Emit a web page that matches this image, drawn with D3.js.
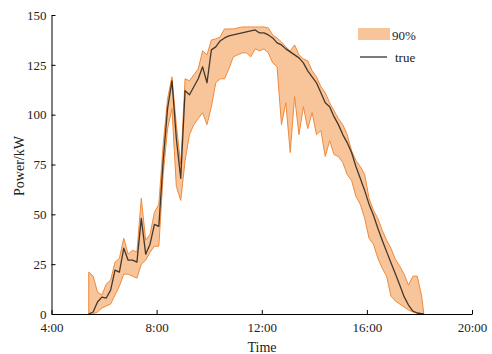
<!DOCTYPE html>
<html>
<head>
<meta charset="utf-8">
<script src="https://cdn.jsdelivr.net/npm/d3@7"></script>
<style>
  html, body { margin: 0; padding: 0; background: #fff; }
  svg { display: block; }
  svg text { font-family: "Liberation Serif", "Times New Roman", serif !important; fill: #222; }
</style>
</head>
<body>
<div id="chart"></div>
<script>
// Time stamps (10 min resolution)
const times = [
  "5:25","5:35","5:45","5:55","6:05","6:15","6:25","6:35","6:45","6:55",
  "7:05","7:15","7:25","7:35","7:45","7:55","8:05","8:15","8:25","8:35",
  "8:45","8:55","9:05","9:15","9:25","9:35","9:45","9:55","10:05","10:15",
  "10:25","10:35","10:45","10:55","11:05","11:15","11:25","11:35","11:45","11:55",
  "12:05","12:15","12:25","12:35","12:45","12:55","13:05","13:15","13:25","13:35",
  "13:45","13:55","14:05","14:15","14:25","14:35","14:45","14:55","15:05","15:15",
  "15:25","15:35","15:45","15:55","16:05","16:15","16:25","16:35","16:45","16:55",
  "17:05","17:15","17:25","17:35","17:45","17:55","18:05","18:10"
];

// upper bound of the 90% interval (kW)
const upper90 = [
  21, 19, 11, 9.5, 15, 17, 26, 28, 38, 30,
  32, 31, 58, 37, 40, 51, 55, 85, 108, 119,
  95, 75, 118, 117, 120, 123, 132, 130, 137.5, 138,
  139, 143, 143, 143, 143.5, 144, 144, 144, 144, 144,
  144, 143.5, 140, 138.5, 136.5, 134, 132, 135, 130, 128,
  127, 122, 119, 114, 111, 106, 102, 98, 95, 90,
  82, 77, 74, 70, 58, 52, 48, 42, 37, 33,
  27.5, 24, 20, 14.5, 19, 19, 9, 0
];

// measured power (kW)
const truePower = [
  0, 1, 6, 8.5, 8, 12, 22, 21, 33, 27,
  27, 26, 48, 30, 35, 45, 44, 77, 103, 117,
  88, 68, 112, 110, 114, 118, 124, 116, 132.5, 134,
  137, 138.5, 139.5, 140, 140.5, 141, 141.5, 142, 142.5, 141,
  141, 140, 138.5, 136, 135, 133, 131.5, 130, 128.5, 126,
  122, 119, 116, 111, 106, 104, 99, 95, 90, 86,
  81, 74, 68, 62, 55, 49.5, 43, 37, 31.3, 25.7,
  20.2, 14.5, 8.7, 4.5, 1.5, 0.5, 0.2, 0
];

// lower bound of the 90% interval (kW)
const lower90 = [
  0, 0, 1, 3, 4, 5, 9.5, 14, 20, 20,
  19, 18, 25, 27, 31, 34, 34, 70, 93, 103,
  64, 57, 77, 90, 95, 98, 101, 95, 104, 116,
  118, 118, 123, 129, 130, 131, 131, 129, 133, 132,
  133, 131, 126, 124, 95, 106, 81, 109, 90, 104,
  93, 101, 90, 92, 79, 87, 80, 79, 76, 70,
  67, 59, 55, 48, 38, 35, 28, 23, 19, 9,
  6.5, 5, 3.5, 2, 1, 0.3, 0, 0
];

const xTicks = ["4:00", "8:00", "12:00", "16:00", "20:00"];
const yTicks = [0, 25, 50, 75, 100, 125, 150];

const toMin = (s) => { const [h, m] = s.split(":").map(Number); return h * 60 + m; };

const data = times.map((t, i) => ({
  t: toMin(t), hi: upper90[i], lo: lower90[i], v: truePower[i]
}));

const width = 492, height = 354;
const serif = '"Liberation Serif", "Times New Roman", serif';
const svg = d3.select("#chart").append("svg")
  .attr("width", width).attr("height", height);

const x = d3.scaleLinear().domain([toMin(xTicks[0]), toMin(xTicks[xTicks.length - 1])]).range([51.5, 472]);
const y = d3.scaleLinear().domain([0, 150]).range([314, 15]);

// band
svg.append("path")
  .datum(data)
  .attr("fill", "#f8c59b")
  .attr("stroke", "#f0893a")
  .attr("stroke-width", 1)
  .attr("stroke-linejoin", "round")
  .attr("d", d3.area().x(d => x(d.t)).y0(d => y(d.lo)).y1(d => y(d.hi)));

// true line
svg.append("path")
  .datum(data)
  .attr("fill", "none")
  .attr("stroke", "#000")
  .attr("stroke-opacity", 0.72)
  .attr("stroke-width", 1.3)
  .attr("stroke-linejoin", "round")
  .attr("d", d3.line().x(d => x(d.t)).y(d => y(d.v)));

// axes
const xAxis = svg.append("g").attr("transform", `translate(0,${y(0)})`)
  .attr("font-family", serif).attr("font-size", 13)
  .call(d3.axisBottom(x).tickValues(xTicks.map(toMin)).tickSizeInner(-4).tickSizeOuter(0)
    .tickFormat((d, i) => xTicks[i]));
xAxis.attr("font-family", serif).attr("font-size", 13);
xAxis.select(".domain").attr("stroke", "#000");
xAxis.selectAll(".tick line").attr("stroke", "#000");
xAxis.selectAll(".tick text").attr("y", 9).attr("dy", "0.71em").attr("fill", "#222");

const yAxis = svg.append("g").attr("transform", `translate(${x.range()[0]},0)`)
  .call(d3.axisLeft(y).tickValues(yTicks).tickSizeInner(-4).tickSizeOuter(0));
yAxis.attr("font-family", serif).attr("font-size", 13);
yAxis.select(".domain").attr("stroke", "#000");
yAxis.selectAll(".tick line").attr("stroke", "#000");
yAxis.selectAll(".tick text").attr("x", -5).attr("fill", "#222");

// axis titles
svg.append("text").attr("x", 262).attr("y", 352).attr("text-anchor", "middle")
  .attr("font-size", "14px").text("Time");
svg.append("text").attr("transform", "translate(24,166) rotate(-90)").attr("text-anchor", "middle")
  .attr("font-size", "14px").text("Power/kW");

// legend
const leg = svg.append("g");
leg.append("rect").attr("x", 358).attr("y", 28).attr("width", 32).attr("height", 12)
  .attr("fill", "#f8c59b");
leg.append("text").attr("x", 392).attr("y", 40).attr("font-size", "13px").text("90%");
leg.append("line").attr("x1", 360).attr("x2", 387).attr("y1", 57).attr("y2", 57)
  .attr("stroke", "#000").attr("stroke-opacity", 0.8).attr("stroke-width", 1.3);
leg.append("text").attr("x", 395).attr("y", 61.5).attr("font-size", "13px").text("true");
</script>
</body>
</html>
